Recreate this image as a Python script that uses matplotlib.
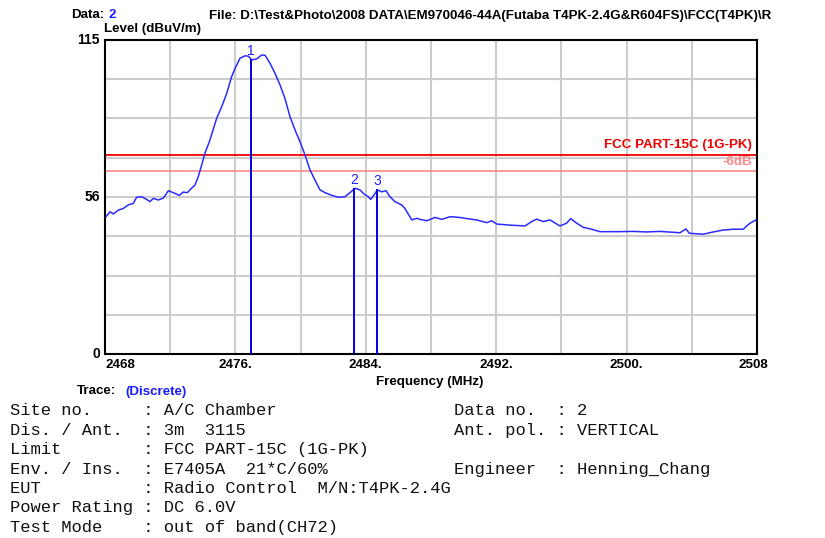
import matplotlib
matplotlib.use('Agg')
import matplotlib.pyplot as plt
from matplotlib.transforms import blended_transform_factory

# trace (MHz, dBuV/m)
freq = [2468.06, 2468.31, 2468.51, 2468.82, 2469.12, 2469.43, 2469.74, 2469.94, 2470.25, 2470.56,
        2470.76, 2470.96, 2471.27, 2471.58, 2471.89, 2472.19, 2472.56, 2472.80, 2473.05, 2473.21,
        2473.52, 2473.72, 2473.93, 2474.13, 2474.44, 2474.85, 2475.16, 2475.47, 2475.77, 2475.98,
        2476.28, 2476.59, 2476.79, 2477.00, 2477.31, 2477.61, 2477.82, 2478.12, 2478.43, 2478.74,
        2479.04, 2479.35, 2479.66, 2479.96, 2480.27, 2480.58, 2480.88, 2481.19, 2481.50, 2481.91,
        2482.31, 2482.72, 2483.03, 2483.34, 2483.64, 2483.89, 2484.15, 2484.30, 2484.50, 2484.71,
        2484.97, 2485.24, 2485.48, 2485.79, 2486.20, 2486.40, 2486.82, 2487.12, 2487.33, 2487.74,
        2488.25, 2488.66, 2489.17, 2489.78, 2490.19, 2490.80, 2491.42, 2491.72, 2492.03, 2492.85,
        2493.77, 2494.18, 2494.48, 2494.89, 2495.30, 2495.91, 2496.32, 2496.57, 2496.94, 2497.34,
        2497.86, 2498.37, 2499.39, 2500.41, 2501.23, 2502.05, 2503.28, 2503.64, 2503.85, 2504.71,
        2505.32, 2505.93, 2506.55, 2507.16, 2507.37, 2507.57, 2507.94]
level = [50.3, 52.1, 51.3, 52.7, 53.3, 54.6, 55.2, 57.4, 57.6, 56.6,
         55.8, 57.0, 56.4, 57.1, 59.8, 59.1, 58.1, 59.3, 59.1, 60.1,
         61.9, 64.9, 69.2, 73.5, 78.4, 86.3, 90.6, 95.5, 101.6, 104.6,
         108.3, 109.2, 109.1, 107.7, 108.1, 109.5, 109.4, 106.5, 102.8, 98.5,
         93.6, 86.9, 82.0, 77.8, 72.9, 67.4, 63.7, 60.1, 59.1, 58.1,
         57.4, 57.6, 59.1, 60.7, 60.1, 58.6, 57.6, 56.6, 58.2, 60.1,
         59.4, 59.8, 57.6, 55.8, 54.6, 53.3, 49.1, 49.7, 49.3, 48.8,
         50.0, 49.3, 50.3, 50.0, 49.6, 49.1, 48.1, 48.8, 47.6, 47.2,
         46.9, 48.5, 49.4, 48.5, 49.1, 46.9, 47.9, 49.6, 47.9, 46.4,
         45.7, 44.8, 44.8, 44.9, 44.7, 44.9, 44.4, 45.8, 44.2, 43.9,
         44.7, 45.4, 45.7, 45.7, 46.9, 47.9, 49.1]

marker_no = ['1', '2', '3']
marker_freq = [2476.96, 2483.29, 2484.71]
marker_level = [107.9, 60.7, 60.3]

limit = 72.9
limit_6db = 67.0

xticks = [2468, 2476, 2484, 2492, 2500, 2508]
xtick_labels = ['2468', '2476.', '2484.', '2492.', '2500.', '2508']
yticks = [0, 57.5, 115]
ytick_labels = ['0', '56', '115']

info_left = ['Site no.     : A/C Chamber',
             'Dis. / Ant.  : 3m  3115',
             'Limit        : FCC PART-15C (1G-PK)',
             'Env. / Ins.  : E7405A  21*C/60%',
             'EUT          : Radio Control  M/N:T4PK-2.4G',
             'Power Rating : DC 6.0V',
             'Test Mode    : out of band(CH72)']
info_right = {0: 'Data no.  : 2', 1: 'Ant. pol. : VERTICAL', 3: 'Engineer  : Henning_Chang'}

W, H = 825, 538
fig = plt.figure(figsize=(W / 100, H / 100), dpi=100)
fig.patch.set_facecolor('white')
ax = fig.add_axes([105 / W, 1 - 354 / H, 652 / W, 314 / H])

sans = 'Liberation Sans'
mono = 'Liberation Mono'
fs = 9.6

ax.set_xlim(2468, 2508)
ax.set_ylim(0, 115)
for i in range(1, 10):
    ax.axvline(2468 + 4 * i, color='#cccccc', lw=1.5, zorder=1)
for i in range(1, 8):
    ax.axhline(115 / 8 * i, color='#cccccc', lw=1.5, zorder=1)

ax.axhline(limit, color='#ee0000', lw=1.3, zorder=2)
ax.axhline(limit_6db, color='#ff8080', lw=1.1, zorder=2)

ax.plot(freq, level, color='#2b2bff', lw=1.1, zorder=3)

for n, f, l in zip(marker_no, marker_freq, marker_level):
    ax.vlines(f, 0, l, color='#0000dd', lw=1.4, zorder=4)
    ax.annotate(n, (f, l), xytext=(0, 1), textcoords='offset points', ha='center', va='bottom',
                color='#2020ff', fontsize=10, family=sans)

ax.text(2507.7, limit + 1.3, 'FCC PART-15C (1G-PK)', color='#ee0000', fontsize=fs,
        fontweight='bold', family=sans, ha='right', va='bottom')
ax.text(2507.7, limit_6db + 1.0, '-6dB', color='#ff8c8c', fontsize=fs, fontweight='bold',
        family=sans, ha='right', va='bottom')

for s in ax.spines.values():
    s.set_color('black')
    s.set_linewidth(1.5)
ax.set_xticks([])
ax.set_yticks([])

tb = blended_transform_factory(ax.transData, ax.transAxes)
for i, (t, lab) in enumerate(zip(xticks, xtick_labels)):
    ha = 'left' if i == 0 else 'center'
    dx = -0.2 if i == len(xticks) - 1 else 0
    ax.text(t + dx, -0.035, lab, transform=tb, ha=ha, va='center', fontsize=fs,
            fontweight='bold', family=sans)
ty = blended_transform_factory(ax.transAxes, ax.transData)
for t, lab in zip(yticks, ytick_labels):
    ax.text(-0.008, t, lab, transform=ty, ha='right', va='center', fontsize=10,
            fontweight='bold', family=sans)

def fy(py):
    return 1 - py / H

fig.text(71 / W, fy(15.5), 'Data:', fontsize=fs, fontweight='bold', family=sans, va='center')
fig.text(108 / W, fy(15.5), '2', fontsize=fs, fontweight='bold', family=sans, va='center',
         color='#1a1aff')
fig.text(209 / W, fy(15.5), r'File: D:\Test&Photo\2008 DATA\EM970046-44A(Futaba T4PK-2.4G&R604FS)\FCC(T4PK)\R',
         fontsize=fs, fontweight='bold', family=sans, va='center')
fig.text(104 / W, fy(29), 'Level (dBuV/m)', fontsize=fs, fontweight='bold', family=sans, va='center')
fig.text(430 / W, fy(382), 'Frequency (MHz)', fontsize=fs, fontweight='bold', family=sans,
         va='center', ha='center')
fig.text(77 / W, fy(391.5), 'Trace:', fontsize=fs, fontweight='bold', family=sans, va='center')
fig.text(125 / W, fy(391.5), '(Discrete)', fontsize=fs, fontweight='bold', family=sans,
         va='center', color='#1a1aff')

for i, line in enumerate(info_left):
    fig.text(10 / W, fy(410.7 + 19.45 * i), line, fontsize=12.3, family=mono, va='center',
             color='#111111')
for i, line in info_right.items():
    fig.text(454 / W, fy(410.7 + 19.45 * i), line, fontsize=12.3, family=mono, va='center',
             color='#111111')

fig.savefig('out.png', dpi=100)
